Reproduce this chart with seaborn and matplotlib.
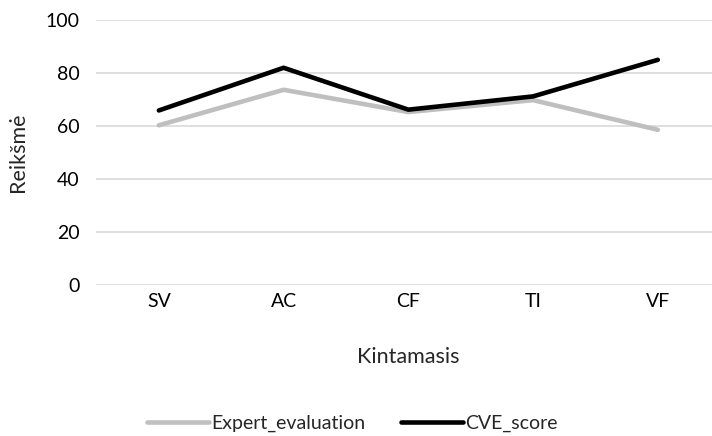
import pandas as pd
import seaborn as sns
import matplotlib.pyplot as plt

# Data
categories = ["SV", "AC", "CF", "TI", "VF"]
expert_evaluation = [60.3, 73.7, 65.3, 69.8, 58.6]
cve_score = [65.9, 82.0, 66.2, 71.2, 85.0]
y_ticks = [0, 20, 40, 60, 80, 100]

df = pd.DataFrame({
    "Kintamasis": categories * 2,
    "Reikšmė": expert_evaluation + cve_score,
    "series": ["Expert_evaluation"] * 5 + ["CVE_score"] * 5,
})

sns.set_style("white")
plt.rcParams["font.family"] = ["Lato", "DejaVu Sans"]

fig = plt.figure(figsize=(7.12, 4.36), dpi=100)
ax = fig.add_axes([0.1355, 0.346, 0.876, 0.608])

sns.lineplot(data=df, x="Kintamasis", y="Reikšmė", hue="series",
             palette={"Expert_evaluation": "#BFBFBF", "CVE_score": "#000000"},
             linewidth=3.3, sort=False, ax=ax)

ax.set_xlim(-0.5, len(categories) - 0.5)
ax.set_ylim(0, 100)
ax.set_yticks(y_ticks)
ax.grid(axis="y", color="#D9D9D9", linewidth=1.2)
ax.set_axisbelow(True)
for s in ax.spines.values():
    s.set_visible(False)
ax.tick_params(length=0, labelsize=14, colors="#000000", pad=12)
ax.tick_params(axis="x", pad=6)

ax.set_xlabel("Kintamasis", fontsize=15.5, labelpad=26)
ax.set_ylabel("Reikšmė", fontsize=15.5, labelpad=13)

ax.legend(loc="center", bbox_to_anchor=(0.41, -0.52), ncol=2, frameon=False,
          fontsize=14, handlelength=3.2, handletextpad=0.1, columnspacing=1.8,
          title=None)

fig.savefig("out.png", dpi=100)
